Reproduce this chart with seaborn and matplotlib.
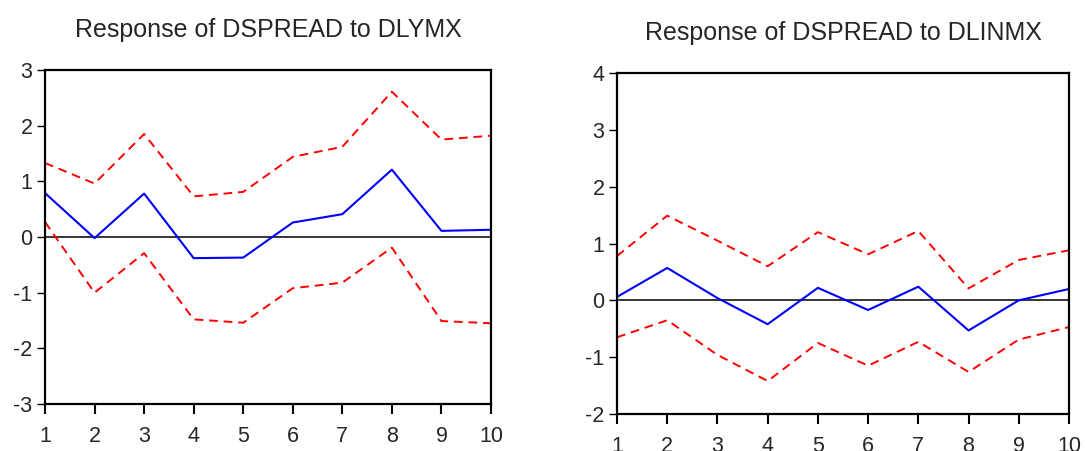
import numpy as np
import pandas as pd
import seaborn as sns
import matplotlib.pyplot as plt

periods = list(range(1, 11))

# Response of DSPREAD to DLYMX
ly_resp = [0.79, -0.02, 0.78, -0.38, -0.37, 0.26, 0.41, 1.21, 0.11, 0.13]
ly_upper = [1.33, 0.96, 1.85, 0.73, 0.81, 1.44, 1.62, 2.61, 1.75, 1.82]
ly_lower = [0.27, -1.00, -0.29, -1.48, -1.54, -0.92, -0.82, -0.19, -1.51, -1.55]

# Response of DSPREAD to DLINMX
li_resp = [0.06, 0.57, 0.04, -0.42, 0.22, -0.17, 0.24, -0.53, 0.00, 0.20]
li_upper = [0.78, 1.49, 1.05, 0.60, 1.20, 0.81, 1.22, 0.21, 0.71, 0.88]
li_lower = [-0.65, -0.35, -0.96, -1.42, -0.75, -1.15, -0.73, -1.26, -0.69, -0.47]

titles = ["Response of DSPREAD to DLYMX", "Response of DSPREAD to DLINMX"]
ylims = [(-3, 3), (-2, 4)]

sns.set_style("white")
plt.rcParams['font.family'] = ['Liberation Sans', 'DejaVu Sans']
plt.rcParams['axes.unicode_minus'] = False

fig = plt.figure(figsize=(10.85, 4.51), dpi=100)
W, H = 1085, 451
ax1 = fig.add_axes([45 / W, 1 - 404 / H, 446 / W, 334 / H])
ax2 = fig.add_axes([617 / W, 1 - 414 / H, 452 / W, 341 / H])

panels = [(ax1, ly_resp, ly_upper, ly_lower), (ax2, li_resp, li_upper, li_lower)]

for i, (ax, resp, up, lo) in enumerate(panels):
    df = pd.DataFrame({'period': periods, 'resp': resp, 'upper': up, 'lower': lo})
    ax.axhline(0, color='black', lw=1.1, zorder=1)
    sns.lineplot(data=df, x='period', y='upper', ax=ax, color='red', lw=1.4,
                 linestyle=(0, (4.5, 3)))
    sns.lineplot(data=df, x='period', y='lower', ax=ax, color='red', lw=1.4,
                 linestyle=(0, (4.5, 3)))
    sns.lineplot(data=df, x='period', y='resp', ax=ax, color='blue', lw=1.5)
    ax.set_xlim(1, 10)
    ax.set_ylim(*ylims[i])
    ax.set_xticks(periods)
    ax.set_yticks(range(ylims[i][0], ylims[i][1] + 1))
    ax.set_xlabel('')
    ax.set_ylabel('')
    ax.set_title(titles[i], fontsize=18, pad=24)
    for s in ax.spines.values():
        s.set_color('black')
        s.set_linewidth(1.6)
    ax.tick_params(axis='x', direction='out', length=7, width=1.5,
                   color='black', labelsize=15.5, pad=9, bottom=True)
    ax.tick_params(axis='y', direction='out', length=6, width=1.0,
                   color='black', labelsize=15.5, pad=3, left=True)

fig.savefig('out.png', dpi=100)
